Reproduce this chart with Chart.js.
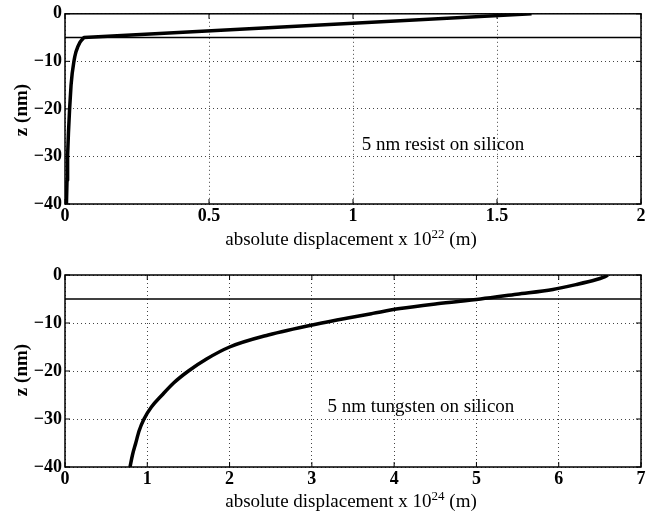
<!DOCTYPE html>
<html>
<head>
<meta charset="utf-8">
<script src="https://cdn.jsdelivr.net/npm/chart.js@4"></script>
<style>
  body { margin: 0; background: #fff; }
  #wrap { position: relative; width: 652px; height: 521px; font-family: "Liberation Serif", serif; color: #000; }
  canvas { position: absolute; left: 0; }
  .xlab { position: absolute; width: 652px; left: 25px; text-align: center; font-size: 19px; }
  .xlab sup { font-size: 13px; }
  .ylab { position: absolute; width: 80px; height: 24px; line-height: 24px; text-align: center;
          font-size: 19px; font-weight: bold; transform: rotate(-90deg); white-space: nowrap; }
</style>
</head>
<body>
<div id="wrap">
  <canvas id="top" width="652" height="260" style="top:0"></canvas>
  <canvas id="bottom" width="652" height="261" style="top:260px"></canvas>
  <div class="xlab" style="top:226px">absolute displacement x 10<sup>22</sup> (m)</div>
  <div class="xlab" style="top:488px">absolute displacement x 10<sup>24</sup> (m)</div>
  <div class="ylab" style="left:-19px; top:98px">z (nm)</div>
  <div class="ylab" style="left:-19px; top:358px">z (nm)</div>
</div>
<script>
// resist on silicon (x in 1e-22 m)
const resistZ = [-40, -35, -30, -25, -20, -15, -12.5, -10, -9, -8, -7, -6, -5.5, -5, -2, 0];
const resistX = [0.005, 0.007, 0.009, 0.012, 0.016, 0.021, 0.025, 0.031, 0.034, 0.038, 0.044, 0.052, 0.058, 0.066, 1.0, 1.62];

// tungsten on silicon (x in 1e-24 m)
const tungstenZ = [-40, -37.5, -35, -32.5, -30, -27.5, -25, -22.5, -20, -17.5, -15, -12.5, -10, -9, -8, -7, -6, -5, -4, -3, -2, -1, -0.5, 0];
const tungstenX = [0.79, 0.82, 0.86, 0.90, 0.96, 1.05, 1.18, 1.32, 1.50, 1.72, 2.0, 2.47, 3.12, 3.42, 3.74, 4.07, 4.52, 5.05, 5.49, 5.93, 6.21, 6.45, 6.54, 6.6];

const interfaceZ = -5;
const yTicks = [0, -10, -20, -30, -40];
const topXTicks = [0, 0.5, 1, 1.5, 2];
const bottomXTicks = [0, 1, 2, 3, 4, 5, 6, 7];

const topNote = { text: '5 nm resist on silicon', x: 1.03, z: -27.6 };
const bottomNote = { text: '5 nm tungsten on silicon', x: 3.19, z: -27.4 };

const tickFont = { family: 'Liberation Serif', size: 18, weight: 'bold' };

function points(xs, zs) {
  return xs.map((x, i) => ({ x, y: zs[i] }));
}

// frame, inward ticks and the text note
const framePlugin = {
  id: 'frame',
  afterDraw(chart, args, opts) {
    const { ctx, chartArea: a, scales } = chart;
    ctx.save();
    ctx.strokeStyle = '#000';
    ctx.lineWidth = 1.5;
    ctx.strokeRect(a.left, a.top, a.right - a.left, a.bottom - a.top);
    ctx.lineWidth = 1;
    ctx.beginPath();
    opts.xTicks.forEach(v => {
      const px = scales.x.getPixelForValue(v);
      ctx.moveTo(px, a.bottom); ctx.lineTo(px, a.bottom - 5);
      ctx.moveTo(px, a.top); ctx.lineTo(px, a.top + 5);
    });
    yTicks.forEach(v => {
      const py = scales.y.getPixelForValue(v);
      ctx.moveTo(a.left, py); ctx.lineTo(a.left + 5, py);
      ctx.moveTo(a.right, py); ctx.lineTo(a.right - 5, py);
    });
    ctx.stroke();
    ctx.fillStyle = '#000';
    ctx.font = '19px "Liberation Serif"';
    ctx.textBaseline = 'middle';
    ctx.fillText(opts.note.text, scales.x.getPixelForValue(opts.note.x), scales.y.getPixelForValue(opts.note.z));
    ctx.restore();
  }
};

function makeChart(id, xs, zs, xMax, xTicks, note, padTop, xHeight, smooth) {
  return new Chart(document.getElementById(id), {
    type: 'scatter',
    data: {
      datasets: [
        {
          data: points(xs, zs),
          showLine: true,
          borderColor: '#000',
          borderWidth: 3.5,
          borderJoinStyle: 'round',
          pointRadius: 0,
          tension: 0,
          cubicInterpolationMode: smooth ? 'monotone' : 'default'
        },
        {
          data: [{ x: 0, y: interfaceZ }, { x: xMax, y: interfaceZ }],
          showLine: true,
          borderColor: '#000',
          borderWidth: 1.5,
          pointRadius: 0
        }
      ]
    },
    options: {
      responsive: false,
      animation: false,
      layout: { padding: { top: padTop, right: 11, left: 0, bottom: 0 } },
      plugins: {
        legend: { display: false },
        tooltip: { enabled: false },
        frame: { xTicks, note }
      },
      scales: {
        x: {
          type: 'linear',
          min: 0,
          max: xMax,
          afterBuildTicks: s => { s.ticks = xTicks.map(v => ({ value: v })); },
          grid: { color: '#444', lineWidth: 1, drawTicks: false },
          border: { display: false, dash: [1, 3] },
          ticks: { color: '#000', font: tickFont, padding: 2, maxRotation: 0, callback: v => String(v) },
          afterFit: s => { s.height = xHeight; }
        },
        y: {
          type: 'linear',
          min: -40,
          max: 0,
          afterBuildTicks: s => { s.ticks = yTicks.map(v => ({ value: v })); },
          grid: { color: '#444', lineWidth: 1, drawTicks: false },
          border: { display: false, dash: [1, 3] },
          ticks: {
            color: '#000', font: tickFont, padding: 3,
            callback: v => String(v).replace('-', '\u2212')
          },
          afterFit: s => { s.width = 65; }
        }
      }
    },
    plugins: [framePlugin]
  });
}

makeChart('top', resistX, resistZ, 2, topXTicks, topNote, 13, 56, false);
makeChart('bottom', tungstenX, tungstenZ, 7, bottomXTicks, bottomNote, 15, 54, true);
</script>
</body>
</html>
